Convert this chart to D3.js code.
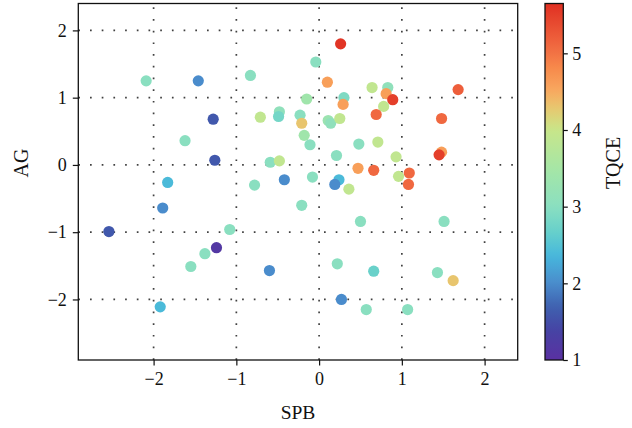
<!DOCTYPE html>
<html>
<head>
<meta charset="utf-8">
<script src="https://cdn.jsdelivr.net/npm/d3@7"></script>
<style>
  body { margin: 0; background: #fff; }
  .axis path, .axis line { stroke: #111; }
</style>
</head>
<body>
<div id="chart"></div>
<script>
// values
let spb = [0.26, -0.04, 0.10, 0.64, 0.83, 0.81, 0.89, 1.68, -0.15, 0.30,
           0.29, 0.78, 0.69, 1.48, 0.11, 0.14, 0.25, -0.23, -0.21, -0.18,
           -0.11, 0.21, 0.48, 0.71, 0.93, 1.48, 1.45, -0.08, 0.24, 0.19,
           0.36, 0.47, 0.66, 0.96, 1.09, 1.08, -2.09, -1.46, -0.83, -1.28,
           -1.26, -1.62, -1.83, -1.89, -0.71, -0.48, -0.49, -0.59, -0.48, -0.78,
           -0.42, -0.21, -2.54, -1.08, -1.24, -1.38, -1.55, -0.60, -1.92, 0.50,
           1.51, 0.22, 0.66, 1.43, 1.62, 0.27, 0.57, 1.07];
let ag = [1.80, 1.53, 1.23, 1.15, 1.15, 1.06, 0.97, 1.12, 0.98, 1.00,
          0.90, 0.87, 0.75, 0.69, 0.66, 0.62, 0.69, 0.74, 0.62, 0.44,
          0.30, 0.14, 0.31, 0.34, 0.12, 0.19, 0.15, -0.18, -0.22, -0.29,
          -0.36, -0.05, -0.08, -0.17, -0.12, -0.29, 1.25, 1.25, 1.33, 0.68,
          0.07, 0.36, -0.26, -0.64, 0.71, 0.79, 0.72, 0.04, 0.06, -0.30,
          -0.22, -0.60, -0.99, -0.96, -1.23, -1.32, -1.51, -1.57, -2.11, -0.84,
          -0.84, -1.47, -1.58, -1.60, -1.72, -2.00, -2.15, -2.15];
let tqce = [5.6, 3.0, 4.6, 3.9, 3.1, 4.6, 5.5, 5.2, 3.4, 2.9,
            4.6, 3.9, 5.1, 5.1, 3.3, 3.1, 3.9, 3.0, 4.3, 3.4,
            3.0, 3.0, 3.0, 3.9, 3.9, 4.6, 5.5, 3.0, 2.4, 2.0,
            3.9, 4.6, 5.1, 3.9, 5.1, 5.1, 3.0, 2.0, 3.0, 1.6,
            1.6, 3.0, 2.4, 2.0, 3.9, 3.1, 2.8, 3.0, 3.9, 3.0,
            2.0, 3.0, 1.6, 3.0, 1.15, 3.0, 3.0, 2.0, 2.4, 3.0,
            3.0, 3.0, 2.7, 3.0, 4.3, 2.0, 3.0, 3.0];

let xTicks = [-2, -1, 0, 1, 2];
let yTicks = [-2, -1, 0, 1, 2];
let cTicks = [1, 2, 3, 4, 5];

// colour map stops (value -> colour)
let cmapStops = [1.0, 1.4, 1.7, 2.0, 2.35, 2.65, 3.0, 3.5, 4.0, 4.25, 4.5, 4.8, 5.1, 5.65];
let cmapColors = ["#5a31a2", "#4644a4", "#3f62b0", "#4a8ccc", "#46b6dc", "#64cfcc", "#8adfc0",
                  "#a6e6a6", "#c8e68a", "#e4cc72", "#f8aa60", "#f78a4c", "#f06840", "#e03022"];

let points = spb.map((d, i) => ({x: d, y: ag[i], c: tqce[i]}));

let width = 632, height = 428;
let plot = {left: 78.3, right: 517.7, top: 3.5, bottom: 360};
let bar = {left: 545, right: 563.3};
let serif = "'Liberation Serif', 'Times New Roman', serif";

let svg = d3.select("#chart").append("svg")
    .attr("width", width)
    .attr("height", height)
    .style("font-family", serif);

let x = d3.scaleLinear().domain([-2.91, 2.40]).range([plot.left, plot.right]);
let y = d3.scaleLinear().domain([-2.90, 2.40]).range([plot.bottom, plot.top]);
let cy = d3.scaleLinear().domain([1, 5.65]).range([plot.bottom, plot.top]);
let color = d3.scaleLinear().domain(cmapStops).range(cmapColors).interpolate(d3.interpolateRgb);

// dotted grid
let grid = svg.append("g").attr("class", "grid")
    .attr("stroke", "#000")
    .attr("stroke-opacity", 0.75)
    .attr("stroke-width", 1.7)
    .attr("stroke-dasharray", "1.7,10");

grid.selectAll("line.v").data(xTicks).enter().append("line")
    .attr("class", "v")
    .attr("x1", d => x(d)).attr("x2", d => x(d))
    .attr("y1", plot.bottom).attr("y2", plot.top);

grid.selectAll("line.h").data(yTicks).enter().append("line")
    .attr("class", "h")
    .attr("y1", d => y(d)).attr("y2", d => y(d))
    .attr("x1", plot.left).attr("x2", plot.right);

// points
svg.append("g").selectAll("circle").data(points).enter().append("circle")
    .attr("cx", d => x(d.x))
    .attr("cy", d => y(d.y))
    .attr("r", 5.6)
    .attr("fill", d => color(d.c));

// frame
svg.append("rect")
    .attr("x", plot.left).attr("y", plot.top)
    .attr("width", plot.right - plot.left)
    .attr("height", plot.bottom - plot.top)
    .attr("fill", "none")
    .attr("stroke", "#111")
    .attr("stroke-width", 1.3);

// axes
let xAxis = svg.append("g").attr("class", "axis")
    .attr("transform", "translate(0," + plot.bottom + ")")
    .call(d3.axisBottom(x).tickValues(xTicks).tickSize(5.5).tickPadding(7).tickFormat(d3.format("d")));
let yAxis = svg.append("g").attr("class", "axis")
    .attr("transform", "translate(" + plot.left + ",0)")
    .call(d3.axisLeft(y).tickValues(yTicks).tickSize(5.5).tickPadding(6).tickFormat(d3.format("d")));

// colour bar
let defs = svg.append("defs");
let grad = defs.append("linearGradient")
    .attr("id", "cbar")
    .attr("x1", 0).attr("y1", 1).attr("x2", 0).attr("y2", 0);
grad.selectAll("stop").data(d3.range(0, 1.0001, 0.02)).enter().append("stop")
    .attr("offset", d => d)
    .attr("stop-color", d => color(1 + d * 4.65));

svg.append("rect")
    .attr("x", bar.left).attr("y", plot.top)
    .attr("width", bar.right - bar.left)
    .attr("height", plot.bottom - plot.top)
    .attr("fill", "url(#cbar)")
    .attr("stroke", "#111")
    .attr("stroke-width", 1.3);

let cAxis = svg.append("g").attr("class", "axis")
    .attr("transform", "translate(" + bar.right + ",0)")
    .call(d3.axisRight(cy).tickValues(cTicks).tickSize(4.5).tickPadding(4.5).tickFormat(d3.format("d")));

[xAxis, yAxis, cAxis].forEach(a => {
    a.attr("font-family", serif).attr("font-size", 18);
    a.select(".domain").remove();
    a.selectAll("line").attr("stroke-width", 1.2);
    a.selectAll("text").attr("fill", "#111");
});

// axis titles
svg.append("text")
    .attr("x", (plot.left + plot.right) / 2)
    .attr("y", 419)
    .attr("text-anchor", "middle")
    .attr("font-size", 19.5)
    .attr("fill", "#111")
    .text("SPB");

svg.append("text")
    .attr("transform", "translate(28,163) rotate(-90)")
    .attr("text-anchor", "middle")
    .attr("font-size", 20)
    .attr("fill", "#111")
    .text("AG");

svg.append("text")
    .attr("transform", "translate(620,163) rotate(-90)")
    .attr("text-anchor", "middle")
    .attr("font-size", 20)
    .attr("fill", "#111")
    .text("TQCE");
</script>
</body>
</html>
